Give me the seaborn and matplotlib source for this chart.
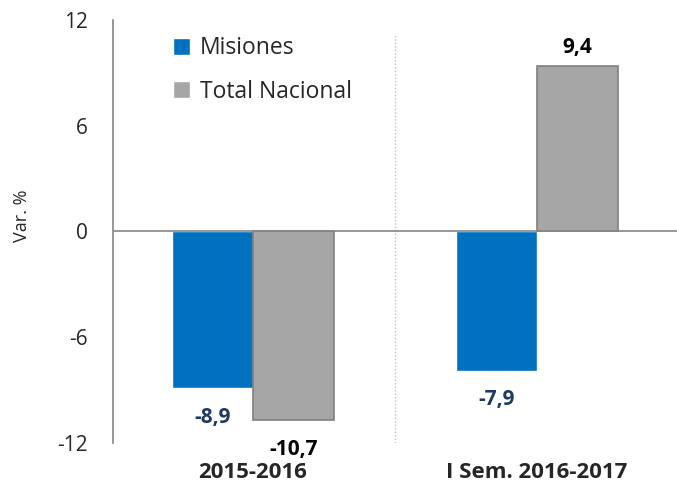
import matplotlib.pyplot as plt
import seaborn as sns
import pandas as pd

# Data
periods = ['2015-2016', 'I Sem. 2016-2017']
series = ['Misiones', 'Total Nacional']
misiones = [-8.9, -7.9]
nacional = [-10.7, 9.4]
yticks = [-12, -6, 0, 6, 12]

sns.set_style('white')
plt.rcParams['font.family'] = ['Open Sans', 'DejaVu Sans']

df = pd.DataFrame({
    'periodo': periods * 2,
    'serie': [series[0]] * 2 + [series[1]] * 2,
    'valor': misiones + nacional,
})

fig = plt.figure(figsize=(6.77, 4.84), dpi=100)
ax = fig.add_axes([0.167, 0.085, 0.833, 0.874])

colors = {'Misiones': '#0070C0', 'Total Nacional': '#A6A6A6'}
sns.barplot(data=df, x='periodo', y='valor', hue='serie', order=periods,
            hue_order=series, palette=colors, width=0.57, gap=0,
            saturation=1, ax=ax)

# gray outline only on the national bars
for bar in ax.containers[1]:
    bar.set_edgecolor('#7F7F7F')
    bar.set_linewidth(1.2)

ax.set_xlim(-0.493, 1.493)
ax.set_ylim(-12, 12)
ax.set_yticks(yticks)
ax.set_yticklabels([str(t) for t in yticks], fontsize=15)
ax.set_ylabel('Var. %', fontsize=13)
ax.yaxis.set_label_coords(-0.145, 0.537)
ax.set_xlabel('')
ax.tick_params(axis='y', direction='out', length=7, color='#868686', width=1.2, pad=11)
ax.tick_params(axis='x', length=0, pad=14)
for lbl in ax.get_xticklabels():
    lbl.set_fontsize(16)
    lbl.set_fontweight('bold')

for s in ['top', 'right', 'bottom']:
    ax.spines[s].set_visible(False)
ax.spines['left'].set_color('#868686')
ax.spines['left'].set_linewidth(1.2)

ax.axhline(0, color='#868686', lw=1.2, zorder=3)
ax.axvline(0.5, ymax=0.97, color='#BFBFBF', lw=1, ls=(0, (1, 1.5)), zorder=0)

# data labels
label_colors = ['#1F3864', '#000000']
for si, cont in enumerate(ax.containers):
    vals = misiones if si == 0 else nacional
    for pi, bar in enumerate(cont):
        v = vals[pi]
        xc = bar.get_x() + bar.get_width() / 2
        off = 13 if v > 0 else -21
        ax.annotate(f'{v:.1f}'.replace('.', ','), (xc, v),
                    xytext=(0, off), textcoords='offset points',
                    ha='center', va='center', fontsize=15, fontweight='bold',
                    color=label_colors[si], annotation_clip=False)

leg = ax.legend(loc='upper left', bbox_to_anchor=(0.07, 1.01), frameon=False,
                fontsize=16.5, handlelength=0.75, handleheight=0.75,
                labelspacing=0.85, handletextpad=0.4)

fig.savefig('out.png', dpi=100)
